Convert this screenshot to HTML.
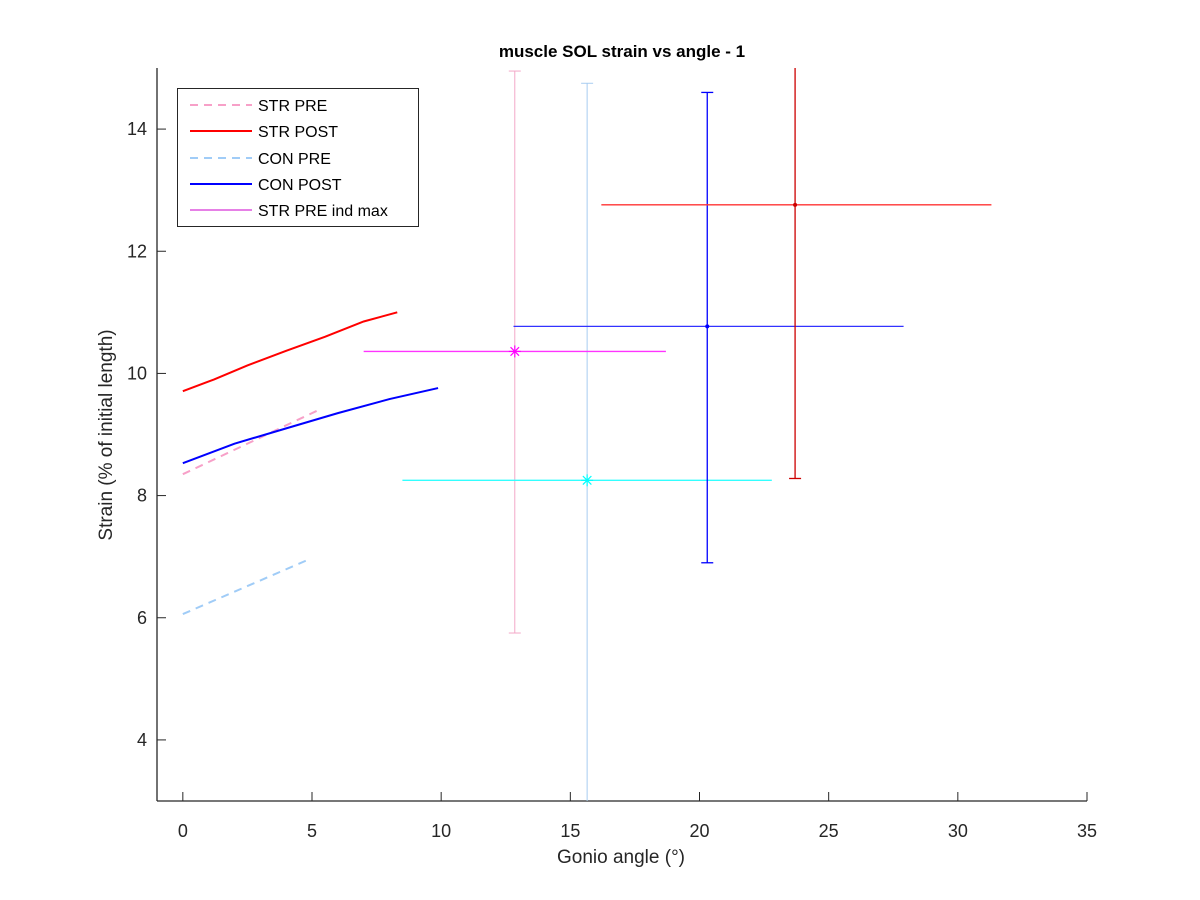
<!DOCTYPE html>
<html><head><meta charset="utf-8"><style>
body{margin:0;background:#fff;}
svg{display:block;font-family:"Liberation Sans",Arial,sans-serif;}
</style></head><body>
<svg id="chart" width="1200" height="900">
<rect x="0" y="0" width="1200" height="900" fill="#fff"/>
<text x="622" y="57" text-anchor="middle" font-size="17" font-weight="bold" fill="#000">muscle SOL strain vs angle - 1</text>
<g id="axes"></g>
<g id="plot"></g>
<text x="621" y="863" text-anchor="middle" font-size="19" fill="#262626">Gonio angle (°)</text>
<text transform="translate(112,435) rotate(-90)" text-anchor="middle" font-size="19" fill="#262626">Strain (% of initial length)</text>
<g>
<rect x="177.5" y="88.5" width="241" height="138" fill="#fff" stroke="#262626" stroke-width="1"/>
<g><line x1="190" y1="105" x2="252" y2="105" stroke="#f7a0c8" stroke-width="2" stroke-dasharray="8,6"/><text x="258" y="111" font-size="16" fill="#000">STR PRE</text></g>
<g><line x1="190" y1="131" x2="252" y2="131" stroke="#ff0000" stroke-width="2"/><text x="258" y="137" font-size="16" fill="#000">STR POST</text></g>
<g><line x1="190" y1="158" x2="252" y2="158" stroke="#a0ccf7" stroke-width="2" stroke-dasharray="8,6"/><text x="258" y="164" font-size="16" fill="#000">CON PRE</text></g>
<g><line x1="190" y1="184" x2="252" y2="184" stroke="#0000ff" stroke-width="2"/><text x="258" y="190" font-size="16" fill="#000">CON POST</text></g>
<g><line x1="190" y1="210" x2="252" y2="210" stroke="#cc00cc" stroke-width="1"/><text x="258" y="216" font-size="16" fill="#000">STR PRE ind max</text></g>
</g>
</svg>
<script>
const xTicks=[0,5,10,15,20,25,30,35];
const yTicks=[4,6,8,10,12,14];
const lineNames=["str-pre","str-post","con-pre","con-post"];
const lineX=[[0,5.35],[0,1.2,2.5,4,5.5,7,8.3],[0,4.85],[0,2,4,6,8,9.88]];
const lineY=[[8.35,9.42],[9.71,9.9,10.13,10.37,10.6,10.85,11.0],[6.06,6.95],[8.53,8.85,9.1,9.35,9.58,9.76]];
const lineColors=["#f7a0c8","#ff0000","#a0ccf7","#0000ff"];
const lineDash=["8,6","","8,6",""];
const ebNames=["str-pre-ind","con-pre-ind","con-post-max","str-post-max"];
const ebX=[12.85,15.65,20.3,23.7];
const ebY=[10.36,8.25,10.77,12.76];
const ebXlo=[7.0,8.5,12.8,16.2];
const ebXhi=[18.7,22.8,27.9,31.3];
const ebYlo=[null,null,6.9,8.28];
const ebYhi=[null,null,14.6,15.2];
const ebColH=["#ff33ff","#33ffff","#3333ff","#ff3333"];
const ebColV=[null,null,"#0000ff","#cc0000"];
const vNames=["str-pre-range","con-pre-range"];
const vX=[12.85,15.65];
const vLo=[5.75,3.0];
const vHi=[14.95,14.75];
const vCol=["#f3a8c8","#a8ccf0"];
const X0=157,X1=1087,Y0=801,Y1=68,xmin=-1,xmax=35,ymin=3,ymax=15;
const sx=v=>X0+(v-xmin)/(xmax-xmin)*(X1-X0);
const sy=v=>Y0-(v-ymin)/(ymax-ymin)*(Y0-Y1);
const NS="http://www.w3.org/2000/svg";
function mk(t,a,p){const e=document.createElementNS(NS,t);for(const k in a)e.setAttribute(k,a[k]);p.appendChild(e);return e;}
const ax=document.getElementById('axes'),pl=document.getElementById('plot');
let e=mk('line',{x1:X0,y1:Y0,x2:X1,y2:Y0,stroke:'#262626','stroke-width':1.3},ax);


e=mk('line',{x1:X0,y1:Y0,x2:X0,y2:Y1,stroke:'#262626','stroke-width':1.3},ax);


xTicks.forEach(t=>{const x=sx(t);mk('line',{x1:x,y1:Y0,x2:x,y2:Y0-9,stroke:'#262626'},ax);
const tx=mk('text',{x:x,y:Y0+36,'text-anchor':'middle','font-size':18,fill:'#262626'},ax);tx.textContent=t;

});
yTicks.forEach(t=>{const y=sy(t);mk('line',{x1:X0,y1:y,x2:X0+9,y2:y,stroke:'#262626'},ax);
const tx=mk('text',{x:X0-10,y:y+6,'text-anchor':'end','font-size':18,fill:'#262626'},ax);tx.textContent=t;

});
vX.forEach((v,i)=>{const g=mk('g',{},pl);


const x=sx(v);mk('line',{x1:x,y1:sy(vLo[i]),x2:x,y2:sy(vHi[i]),stroke:vCol[i],'stroke-width':1},g);
[vLo[i],vHi[i]].forEach(b=>{if(b>ymin)mk('line',{x1:x-6,y1:sy(b),x2:x+6,y2:sy(b),stroke:vCol[i]},g);});});
lineX.forEach((xs,i)=>{const pts=xs.map((x,j)=>sx(x)+','+sy(lineY[i][j])).join(' ');
const p=mk('polyline',{points:pts,fill:'none',stroke:lineColors[i],'stroke-width':2},pl);
if(lineDash[i])p.setAttribute('stroke-dasharray',lineDash[i]);

});
ebX.forEach((v,i)=>{const g=mk('g',{},pl);


const x=sx(v),y=sy(ebY[i]);
mk('line',{x1:sx(ebXlo[i]),y1:y,x2:sx(ebXhi[i]),y2:y,stroke:ebColH[i],'stroke-width':1.3},g);
if(ebYlo[i]!==null){const c=ebColV[i];
mk('line',{x1:x,y1:sy(ebYlo[i]),x2:x,y2:Math.max(Y1,sy(ebYhi[i])),stroke:c,'stroke-width':1.3},g);
[ebYlo[i],ebYhi[i]].forEach(b=>{if(b<=ymax)mk('line',{x1:x-6,y1:sy(b),x2:x+6,y2:sy(b),stroke:c,'stroke-width':1.3},g);});
mk('circle',{cx:x,cy:y,r:2,fill:c},g);}
else{const c=ebColH[i].replace('33','00').replace('33','00');
for(let a=0;a<4;a++){const an=a*Math.PI/4;mk('line',{x1:x-6*Math.cos(an),y1:y-6*Math.sin(an),x2:x+6*Math.cos(an),y2:y+6*Math.sin(an),stroke:c,'stroke-width':1.2},g);}}});
</script>
</body></html>
